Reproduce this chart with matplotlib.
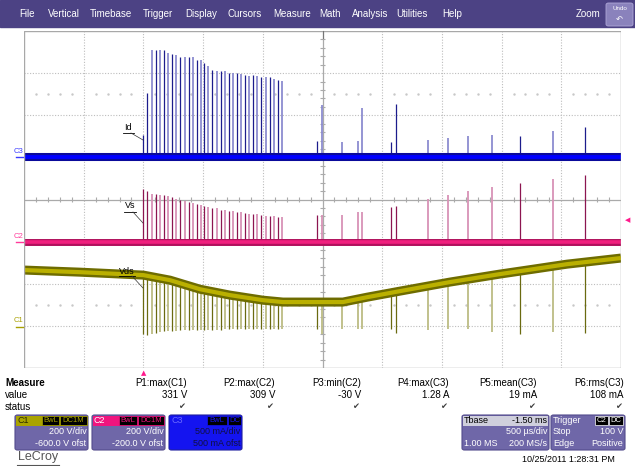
import numpy as np
import matplotlib
matplotlib.use("Agg")
import matplotlib.pyplot as plt
from matplotlib.patches import Rectangle, FancyBboxPatch

plt.rcParams['font.family'] = ['Liberation Sans', 'DejaVu Sans']

W, H = 635, 466

# scope settings: time in ms after trigger, 0.5 ms/div, 10 div
t_left, t_right = -1.0, 4.0
c1_vdiv, c1_gnd = 200.0, -3.0   # Vds  (V/div, ground marker in div)
c2_vdiv, c2_gnd = 200.0, -1.0   # Vs
c3_adiv, c3_gnd = 0.5, 1.0      # Id   (A/div)

# burst of switching events right after the trigger
burst_t = [0.000, 0.033, 0.069, 0.103, 0.136, 0.170, 0.206, 0.240, 0.276, 0.309,
           0.346, 0.379, 0.415, 0.449, 0.483, 0.510, 0.544, 0.577, 0.614, 0.647,
           0.681, 0.714, 0.748, 0.781, 0.817, 0.851, 0.884, 0.921, 0.954, 0.988,
           1.024, 1.058, 1.091, 1.125, 1.161]
burst_id = [0.26, 0.76, 1.28, 1.28, 1.27, 1.27, 1.24, 1.23, 1.22, 1.19,
            1.19, 1.19, 1.19, 1.16, 1.16, 1.12, 1.08, 1.04, 1.03, 1.02,
            1.02, 1.00, 1.00, 1.00, 0.99, 0.98, 0.97, 0.98, 0.97, 0.95,
            0.95, 0.95, 0.93, 0.92, 0.91]
burst_vs = [250, 242, 228, 228, 223, 220, 218, 212, 204, 200,
            195, 189, 184, 178, 172, 168, 165, 160, 158, 152,
            149, 147, 144, 141, 139, 136, 133, 133, 132, 128,
            124, 120, 120, 117, 115]
burst_vds = [-39, -44, -39, -35, -30, -25, -25, -24, -22, -21,
             -21, -20, -20, -20, -19, -19, -19, -18, -18, -18,
             -17, -17, -17, -17, -17, -16, -16, -16, -16, -16,
             -16, -16, -16, -16, -16]

# isolated events later in the record
late_t = [1.454, 1.496, 1.663, 1.797, 1.831, 2.074, 2.116, 2.384, 2.551, 2.719,
          2.920, 3.154, 3.430, 3.698]
late_id = [0.20, 0.62, 0.18, 0.20, 0.59, 0.18, 0.63, 0.21, 0.23, 0.25,
           0.27, 0.25, 0.31, 0.36]
late_vs = [128, 128, 128, 143, 143, 166, 171, 204, 219, 238,
           257, 280, 299, 314]
late_vds = [-16, -39, -16, -16, -16, -16, -35, -20, -16, -16,
            -30, -39, -30, -35]
late_dark = [1, 0, 0, 0, 0, 1, 1, 0, 0, 0, 0, 1, 0, 1]

# Vds envelope (ms, V)
vds_t = [-1.0, -0.531, 0.0, 0.223, 0.474, 0.725, 1.001, 1.169, 1.671, 1.872,
         2.149, 2.568, 2.987, 3.263, 3.548, 4.0]
vds_v = [265, 255, 241, 217, 174, 146, 122, 113, 113, 136,
         165, 208, 246, 269, 293, 322]

# measurement table
meas_names = ["P1:max(C1)", "P2:max(C2)", "P3:min(C2)", "P4:max(C3)", "P5:mean(C3)", "P6:rms(C3)"]
meas_values = ["331 V", "309 V", "-30 V", "1.28 A", "19 mA", "108 mA"]
menu_items = ["File", "Vertical", "Timebase", "Trigger", "Display", "Cursors",
              "Measure", "Math", "Analysis", "Utilities", "Help"]
menu_x = [19, 48, 90, 143, 185, 228, 273, 319, 352, 396, 442]


def fx(x):
    return x / W


def fy(y):
    return 1 - y / H


fig = plt.figure(figsize=(W / 100, H / 100), dpi=100)
fig.patch.set_facecolor('white')

# menu bar
fig.patches.append(Rectangle((0, fy(27)), 1, 27 / H, transform=fig.transFigure,
                             color='#4c4284', zorder=0))
for name, x in zip(menu_items, menu_x):
    fig.text(fx(x), fy(14), name, color='white', fontsize=7, va='center')
fig.text(fx(576), fy(14), "Zoom", color='white', fontsize=7, va='center')
fig.patches.append(FancyBboxPatch((fx(606), fy(26)), 27 / W, 23 / H,
                                  boxstyle="round,pad=0,rounding_size=0.004",
                                  transform=fig.transFigure, fc='#8a82bc', ec='#b0a8d8', lw=0.6))
fig.text(fx(619.5), fy(9), "Undo", color='white', fontsize=4.5, ha='center', va='center')
fig.text(fx(619.5), fy(19), "\u21b6", color='white', fontsize=6, ha='center', va='center',
         family='DejaVu Sans')

# grid axes
ax = fig.add_axes([fx(24), fy(368), 597 / W, 337 / H])
ax.set_xlim(t_left, t_right)
ax.set_ylim(-4, 4)
ax.axis('off')

grid_c = '#bdbdbd'
for k in range(1, 10):
    if k != 5:
        ax.axvline(t_left + 0.5 * k, color=grid_c, lw=0.8, ls=(0, (1, 1.5)), zorder=1)
for k in range(-3, 4):
    if k != 0:
        ax.axhline(k, color=grid_c, lw=0.8, ls=(0, (1, 1.5)), zorder=1)
ax.axvline(1.5, color='#aaaaaa', lw=0.9, zorder=1)
ax.axhline(0, color='#aaaaaa', lw=0.9, zorder=1)
fine_x = [t_left + 0.1 * i for i in range(51) if i % 5 != 0]
fine_y = [-4 + 0.2 * i for i in range(41) if i % 5 != 0]
ax.vlines(fine_x, -0.07, 0.07, color='#aaaaaa', lw=0.8, zorder=1)
ax.hlines(fine_y, 1.5 - 0.025, 1.5 + 0.025, color='#aaaaaa', lw=0.8, zorder=1)
for yy in (2.5, -2.5):
    ax.plot(fine_x, [yy] * len(fine_x), ls='none', marker='s', ms=0.7, color='#c8c8c8', zorder=1)
ax.add_patch(Rectangle((t_left, -4), 5, 8, fill=False, ec='#a8a8a8', lw=1.0, zorder=6))


def draw_spikes(times, base, peak, dark, dark_c, light_c):
    for t, b, p, d in zip(times, base, peak, dark):
        ax.vlines(t, b, p, color=dark_c if d else light_c, lw=0.9 if d else 1.3, zorder=2)


burst_dark = [1 if i < 2 else (i % 2) for i in range(len(burst_t))]
all_t = burst_t + late_t
all_dark = burst_dark + late_dark

# C3 : Id
id_peak = [v / c3_adiv + c3_gnd for v in burst_id + late_id]
draw_spikes(all_t, [c3_gnd] * len(all_t), id_peak, all_dark, '#1c1c8c', '#8c8cd0')
ax.plot([t_left, t_right], [c3_gnd, c3_gnd], color='#0a0a9a', lw=5.8, solid_capstyle='butt', zorder=3)
ax.plot([t_left, t_right], [c3_gnd, c3_gnd], color='#0000ff', lw=2.8, solid_capstyle='butt', zorder=3)

# C2 : Vs
vs_peak = [v / c2_vdiv + c2_gnd for v in burst_vs + late_vs]
draw_spikes(all_t, [c2_gnd] * len(all_t), vs_peak, all_dark, '#8c1550', '#d892b6')
ax.plot([t_left, t_right], [c2_gnd, c2_gnd], color='#b0105c', lw=5.0, solid_capstyle='butt', zorder=3)
ax.plot([t_left, t_right], [c2_gnd, c2_gnd], color='#f0207e', lw=2.6, solid_capstyle='butt', zorder=3)

# C1 : Vds
vds_base = np.interp(all_t, vds_t, vds_v) / c1_vdiv + c1_gnd
vds_low = [v / c1_vdiv + c1_gnd for v in burst_vds + late_vds]
draw_spikes(all_t, vds_base, vds_low, all_dark, '#6a6a10', '#bcbc84')
vds_y = [v / c1_vdiv + c1_gnd for v in vds_v]
ax.plot(vds_t, vds_y, color='#6e6c00', lw=6.5, solid_capstyle='butt', zorder=3)
ax.plot(vds_t, vds_y, color='#bab000', lw=3.0, solid_capstyle='butt', zorder=3)

# trace labels
for txt, (lx, ly), (ux0, ux1, uy), (ex, ey) in [
        ("Id", (128, 127), (123, 134, 133), (143, 140)),
        ("Vs", (130, 206), (124, 136, 212), (143, 223)),
        ("Vds", (127, 271), (119, 135, 276), (143, 288))]:
    fig.text(fx(lx), fy(ly), txt, fontsize=6.5, ha='center', va='center', zorder=10)
    fig.lines.append(plt.Line2D([fx(ux0), fx(ux1)], [fy(uy), fy(uy)], color='black', lw=0.6,
                                transform=fig.transFigure, zorder=10))
    fig.lines.append(plt.Line2D([fx(ux1 - 3), fx(ex)], [fy(uy), fy(ey)], color='#333333', lw=0.5,
                                transform=fig.transFigure, zorder=10))

# channel ground markers
for name, col, ytxt, yline in [("C3", '#3a3aff', 152, 157), ("C2", '#ff3a9a', 236, 242),
                               ("C1", '#a8a000', 321, 327)]:
    fig.text(fx(19), fy(ytxt), name, color=col, fontsize=5.5, ha='center', va='center')
    fig.lines.append(plt.Line2D([fx(16), fx(23)], [fy(yline), fy(yline)], color=col, lw=1.0,
                                transform=fig.transFigure))

# trigger markers
fig.text(fx(143.4), fy(373), "\u25b2", color='#ff1a8c', fontsize=5, ha='center', va='center',
         family='DejaVu Sans')
fig.text(fx(628), fy(220), "\u25c0", color='#ff1a8c', fontsize=5, ha='center', va='center',
         family='DejaVu Sans')
fig.lines.append(plt.Line2D([fx(322.5), fx(322.5)], [fy(31), fy(38)], color='#777777', lw=0.8,
                            transform=fig.transFigure))

# measurement table
fig.text(fx(5), fy(383), "Measure", fontsize=7, fontweight='bold', va='center')
fig.text(fx(5), fy(395), "value", fontsize=7, va='center')
fig.text(fx(5), fy(407), "status", fontsize=7, va='center')
meas_right = [187, 275, 361, 449, 537, 624]
for name, val, xr in zip(meas_names, meas_values, meas_right):
    fig.text(fx(xr), fy(383), name, fontsize=7, ha='right', va='center')
    fig.text(fx(xr), fy(395), val, fontsize=7, ha='right', va='center')
    fig.text(fx(xr - 2), fy(407), "\u2714", fontsize=6, ha='right', va='center',
             color='#404040', family='DejaVu Sans')

body_c = '#6f67a8'


def box(x0, x1, fc, ec='#544c8c'):
    fig.patches.append(FancyBboxPatch((fx(x0), fy(450)), (x1 - x0) / W, 35 / H,
                                      boxstyle="round,pad=0,rounding_size=0.004",
                                      transform=fig.transFigure, fc=fc, ec=ec, lw=0.8))


def header(x0, x1, fc):
    fig.patches.append(Rectangle((fx(x0 + 1), fy(426)), (x1 - x0 - 2) / W, 10.5 / H,
                                 transform=fig.transFigure, fc=fc, ec='none'))


def tag(x0, x1, txt, col):
    fig.patches.append(Rectangle((fx(x0), fy(425)), (x1 - x0) / W, 9 / H,
                                 transform=fig.transFigure, fc='black', ec=col, lw=0.5))
    fig.text(fx((x0 + x1) / 2), fy(420.5), txt, color=col, fontsize=5.5, ha='center', va='center')


# channel boxes
for (x0, x1, hc, name, ncol, tags, row2, row3, bfc, tcol) in [
        (15, 88, '#aaa300', "C1", '#2a2a00', [(42, 59, "BwL"), (60, 87, "DC1M")],
         "200 V/div", "-600.0 V ofst", body_c, 'white'),
        (92, 165, '#f0157e', "C2", '#ffffff', [(119, 137, "BwL"), (138, 164, "DC1M")],
         "200 V/div", "-200.0 V ofst", body_c, 'white'),
        (169, 242, '#1414f0', "C3", '#6a6aff', [(207, 227, "BwL"), (228, 241, "DC")],
         "500 mA/div", "500 mA ofst", '#1414f0', '#101040')]:
    box(x0, x1, bfc, ec='#544c8c' if bfc == body_c else '#2020a0')
    header(x0, x1, hc)
    fig.text(fx(x0 + 2), fy(420.5), name, color=ncol, fontsize=6.5, va='center')
    for a, b, t in tags:
        tag(a, b, t, hc)
    fig.text(fx(x1 - 1.5), fy(432), row2, color=tcol, fontsize=6.5, ha='right', va='center')
    fig.text(fx(x1 - 1.5), fy(443), row3, color=tcol, fontsize=6.5, ha='right', va='center')

# timebase box
box(462, 549, body_c)
header(462, 549, '#cfcfdc')
fig.text(fx(464), fy(420.5), "Tbase", fontsize=6.5, va='center')
fig.text(fx(547), fy(420.5), "-1.50 ms", fontsize=6.5, ha='right', va='center')
fig.text(fx(547), fy(432), "500 \u00b5s/div", color='white', fontsize=6.5, ha='right', va='center')
fig.text(fx(464), fy(443), "1.00 MS", color='white', fontsize=6.5, va='center')
fig.text(fx(547), fy(443), "200 MS/s", color='white', fontsize=6.5, ha='right', va='center')

# trigger box
box(551, 625, body_c)
fig.text(fx(553), fy(420.5), "Trigger", color='white', fontsize=6.5, va='center')
tag(595, 608, "C2", 'white')
tag(609, 623, "DC", 'white')
fig.text(fx(553), fy(432), "Stop", color='white', fontsize=6.5, va='center')
fig.text(fx(623), fy(432), "100 V", color='white', fontsize=6.5, ha='right', va='center')
fig.text(fx(553), fy(443), "Edge", color='white', fontsize=6.5, va='center')
fig.text(fx(623), fy(443), "Positive", color='white', fontsize=6.5, ha='right', va='center')

fig.text(fx(615), fy(460), "10/25/2011 1:28:31 PM", fontsize=6.5, ha='right', va='center')

# logo
fig.text(fx(18), fy(457), "LeCroy", fontsize=9, color='#555555', va='center')
fig.lines.append(plt.Line2D([fx(17), fx(59)], [fy(465), fy(465)], color='#555555', lw=0.8,
                            transform=fig.transFigure))

fig.savefig("out.png", dpi=100)
